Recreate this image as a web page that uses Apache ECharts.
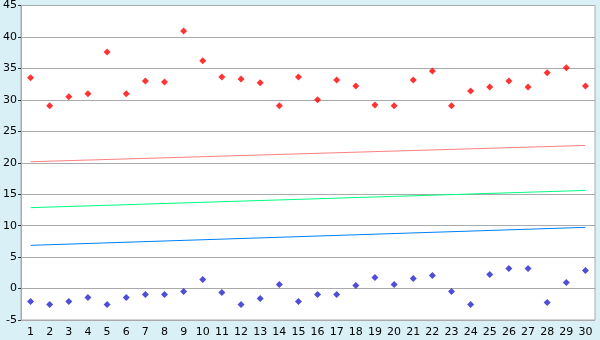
<!DOCTYPE html>
<html><head><meta charset="utf-8">
<script src="https://cdn.jsdelivr.net/npm/echarts@6/dist/echarts.min.js"></script>
<style>html,body{margin:0;padding:0;background:#d9f0f7;}#c{width:600px;height:340px;}</style>
</head><body><div id="c"></div>
<script>
var categories = ['1','2','3','4','5','6','7','8','9','10','11','12','13','14','15','16','17','18','19','20','21','22','23','24','25','26','27','28','29','30'];
var redPoints = [33.5,29.05,30.5,30.95,37.6,30.95,33.0,32.85,40.95,36.2,33.65,33.3,32.7,29.05,33.65,30.0,33.17,32.2,29.2,29.05,33.17,34.6,29.05,31.4,32.05,33.0,32.05,34.3,35.1,32.2];
var bluePoints = [-2.06,-2.54,-2.06,-1.43,-2.54,-1.43,-0.95,-0.95,-0.48,1.43,-0.63,-2.54,-1.59,0.63,-2.06,-0.95,-0.95,0.48,1.75,0.63,1.59,2.06,-0.48,-2.54,2.22,3.17,3.17,-2.22,0.95,2.86];
var redLine = [['1',20.16],['30',22.75]];
var greenLine = [['1',12.86],['30',15.6]];
var blueLine = [['1',6.87],['30',9.73]];

var chart = echarts.init(document.getElementById('c'), null, {renderer:'canvas'});
var font = 'DejaVu Sans';
chart.setOption({
  backgroundColor:'#d9f0f7',
  animation:false,
  grid:{left:20,right:5,top:5,bottom:20,show:true,backgroundColor:'#ffffff',borderColor:'#aaaaaa',borderWidth:1,containLabel:false},
  xAxis:{type:'category',data:categories,boundaryGap:true,
    axisLine:{lineStyle:{color:'#aaaaaa',width:1}},
    axisTick:{alignWithLabel:true,length:5,lineStyle:{color:'#333333'}},
    axisLabel:{color:'#000',fontFamily:font,fontSize:11,margin:7,interval:0},
    splitLine:{show:false}},
  yAxis:{type:'value',min:-5,max:45,interval:5,
    axisLine:{show:true,lineStyle:{color:'#aaaaaa',width:1}},
    axisTick:{show:true,length:3,lineStyle:{color:'#333333'}},
    axisLabel:{color:'#000',fontFamily:font,fontSize:11,margin:4},
    splitLine:{lineStyle:{color:'#aaaaaa',width:1}}},
  series:[
    {type:'scatter',data:redPoints,symbol:'diamond',symbolSize:7,itemStyle:{color:'#ff0000'}},
    {type:'scatter',data:bluePoints,symbol:'diamond',symbolSize:7,itemStyle:{color:'#2222cc'}},
    {type:'line',data:redLine,symbol:'none',lineStyle:{color:'#ff8080',width:1}},
    {type:'line',data:greenLine,symbol:'none',lineStyle:{color:'#00ff80',width:1}},
    {type:'line',data:blueLine,symbol:'none',lineStyle:{color:'#0080ff',width:1}}
  ]
});
</script></body></html>
